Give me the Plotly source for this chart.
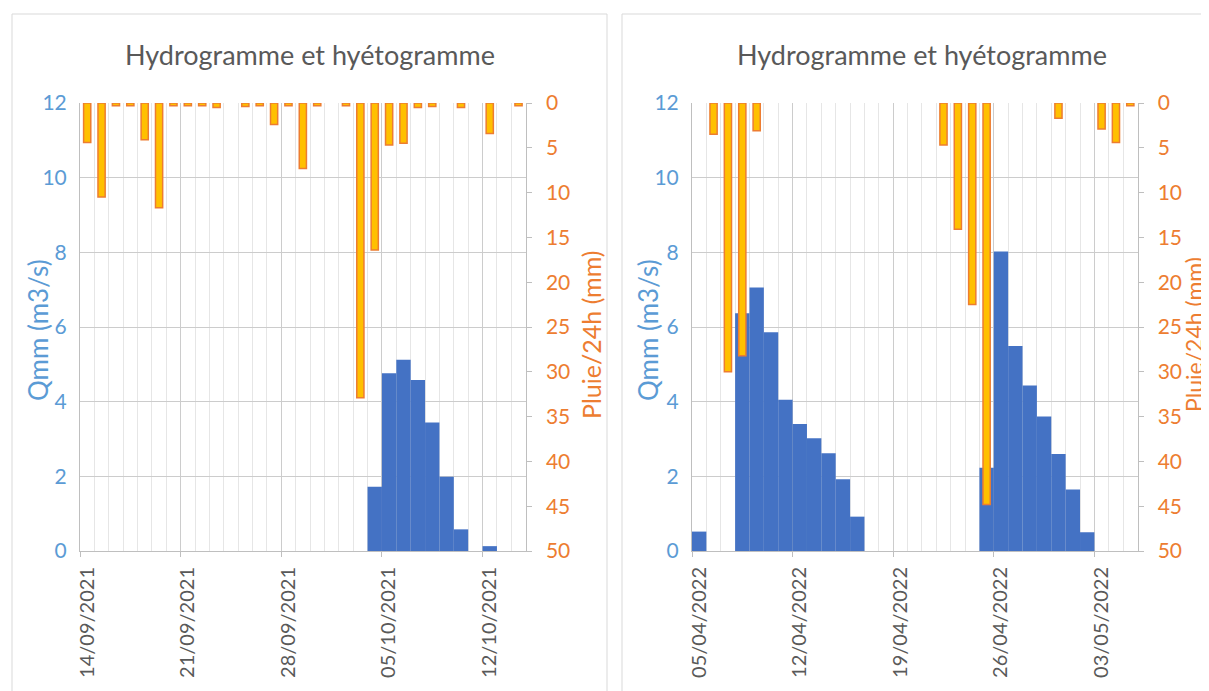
import pandas as pd
import plotly.graph_objects as go

# ---------------- data ----------------
days_2021 = pd.date_range("2021-09-14", periods=31, freq="D")
days_2022 = pd.date_range("2022-04-05", periods=31, freq="D")

# Qmm (m3/s) per day, 2021 (None = no bar)
q_2021 = [None, None, None, None, None, None, None, None, None, None,
          None, None, None, None, None, None, None, None, None, None,
          1.72, 4.76, 5.12, 4.58, 3.44, 1.99, 0.58, None, 0.13, None, None]
# Pluie/24h (mm) per day, 2021
rain_2021 = [4.4, 10.5, 0.3, 0.3, 4.1, 11.7, 0.3, 0.3, 0.3, 0.5,
             None, 0.4, 0.3, 2.4, 0.3, 7.3, 0.3, None, 0.3, 32.9,
             16.4, 4.7, 4.5, 0.5, 0.4, None, 0.5, None, 3.4, None, 0.3]

q_2022 = [0.52, None, None, 6.37, 7.06, 5.86, 4.05, 3.40, 3.02, 2.62,
          1.92, 0.92, None, None, None, None, None, None, None, None,
          2.23, 8.02, 5.49, 4.43, 3.60, 2.60, 1.65, 0.50, None, None, None]
rain_2022 = [None, 3.5, 30.0, 28.2, 3.1, None, None, None, None, None,
             None, None, None, None, None, None, None, 4.7, 14.1, 22.5,
             44.8, None, None, None, None, 1.7, None, None, 2.9, 4.4, 0.3]

title_text = "Hydrogramme et hyétogramme"
q_title = "Qmm (m3/s)"
rain_title = "Pluie/24h (mm)"

# ---------------- style ----------------
FONT = "Lato"
BLUE_BAR = "#4472C4"
BLUE_TXT = "#5B9BD5"
ORANGE_TXT = "#ED7D31"
ORANGE_FILL = "#FFC000"
ORANGE_LINE = "#ED7D31"
GRAY_TXT = "#595959"
GRID_MAJ = "#CCCCCC"
GRID_MIN = "#E6E6E6"
AXIS_LINE = "#BFBFBF"
DAY = 86400000

OFF = 8  # page body margin
W, H = 1209 - OFF, 691 - OFF
def px_x(v):
    return (v - OFF) / W
def px_y(v):
    return 1 - (v - OFF) / H

fig = go.Figure()

panels = [
    (days_2021, q_2021, rain_2021, "x", "y", "y2"),
    (days_2022, q_2022, rain_2022, "x2", "y3", "y4"),
]
for days, q, rain, xa, ya, ya2 in panels:
    fig.add_trace(go.Bar(x=days, y=q, xaxis=xa, yaxis=ya, width=DAY, offset=0,
                         marker=dict(color=BLUE_BAR, line=dict(width=0)),
                         name=q_title, showlegend=False))
    fig.add_trace(go.Bar(x=days, y=rain, xaxis=xa, yaxis=ya2, width=0.5 * DAY,
                         offset=0.25 * DAY,
                         marker=dict(color=ORANGE_FILL, line=dict(color=ORANGE_LINE, width=1.5)),
                         name=rain_title, showlegend=False))

ydom = [px_y(551), px_y(103)]
xdoms = [[px_x(80), px_x(525.7)], [px_x(692), px_x(1137.5)]]

def xaxis_cfg(days, dom, anchor):
    start = days[0]
    end = days[-1] + pd.Timedelta(days=1)
    return dict(domain=dom, anchor=anchor, type="date",
                range=[start, end], tick0=start, dtick=7 * DAY,
                tickformat="%d/%m/%Y", tickangle=-90, ticklabelshift=7,
                ticklabelstandoff=2,
                tickfont=dict(family=FONT, size=20, color=GRAY_TXT),
                ticks="outside", ticklen=5, tickcolor=AXIS_LINE,
                showline=True, linecolor=AXIS_LINE, linewidth=1,
                showgrid=True, gridcolor=GRID_MAJ, gridwidth=1,
                minor=dict(dtick=DAY, tick0=start, showgrid=True,
                           gridcolor=GRID_MIN, gridwidth=1, ticks=""),
                zeroline=False, automargin=False)

def yleft_cfg(anchor):
    return dict(domain=ydom, anchor=anchor, range=[0, 12], dtick=2,
                tickfont=dict(family=FONT, size=21, color=BLUE_TXT),
                ticks="", ticklabelstandoff=8,
                showline=True, linecolor=AXIS_LINE,
                showgrid=True, gridcolor=GRID_MAJ, zeroline=False,
                automargin=False)

def yright_cfg(overlay, anchor):
    return dict(overlaying=overlay, anchor=anchor, side="right", range=[50, 0], dtick=5,
                tickfont=dict(family=FONT, size=21, color=ORANGE_TXT),
                ticks="outside", ticklen=5, tickcolor=AXIS_LINE, ticklabelstandoff=10,
                showline=True, linecolor=AXIS_LINE,
                showgrid=False, zeroline=False,
                automargin=False)

fig.update_layout(
    width=W, height=H,
    margin=dict(l=0, r=0, t=0, b=0),
    paper_bgcolor="white", plot_bgcolor="white",
    barmode="overlay", showlegend=False,
    xaxis=xaxis_cfg(days_2021, xdoms[0], "y"),
    yaxis=yleft_cfg("x"),
    yaxis2=yright_cfg("y", "x"),
    xaxis2=xaxis_cfg(days_2022, xdoms[1], "y3"),
    yaxis3=yleft_cfg("x2"),
    yaxis4=yright_cfg("y3", "x2"),
    font=dict(family=FONT),
)

# chart titles
for cx in (310, 922):
    fig.add_annotation(text=title_text, x=px_x(cx), y=px_y(55), xref="paper", yref="paper",
                       showarrow=False, xanchor="center", yanchor="middle",
                       font=dict(family=FONT, size=27, color=GRAY_TXT))

# axis titles (rotated)
ycen = px_y(330)
for cx in (38, 648):
    fig.add_annotation(text=q_title, x=px_x(cx), y=ycen, xref="paper", yref="paper",
                       showarrow=False, textangle=-90, xanchor="center", yanchor="middle",
                       font=dict(family=FONT, size=26, color=BLUE_TXT))
fig.add_annotation(text=rain_title, x=px_x(591), y=px_y(335), xref="paper", yref="paper",
                   showarrow=False, textangle=-90, xanchor="center", yanchor="middle",
                   font=dict(family=FONT, size=25, color=ORANGE_TXT))
fig.add_annotation(text=rain_title, x=px_x(1194), y=px_y(335), xref="paper", yref="paper",
                   showarrow=False, textangle=-90, xanchor="center", yanchor="middle",
                   font=dict(family=FONT, size=23, color=ORANGE_TXT))

# chart frames
fig.add_shape(type="rect", xref="paper", yref="paper",
              x0=px_x(12), x1=px_x(607), y0=px_y(14), y1=-0.05,
              line=dict(color="#D9D9D9", width=1), fillcolor="rgba(0,0,0,0)", layer="below")
fig.add_shape(type="rect", xref="paper", yref="paper",
              x0=px_x(622), x1=1.05, y0=px_y(14), y1=-0.05,
              line=dict(color="#D9D9D9", width=1), fillcolor="rgba(0,0,0,0)", layer="below")

fig.write_html("out.html")
